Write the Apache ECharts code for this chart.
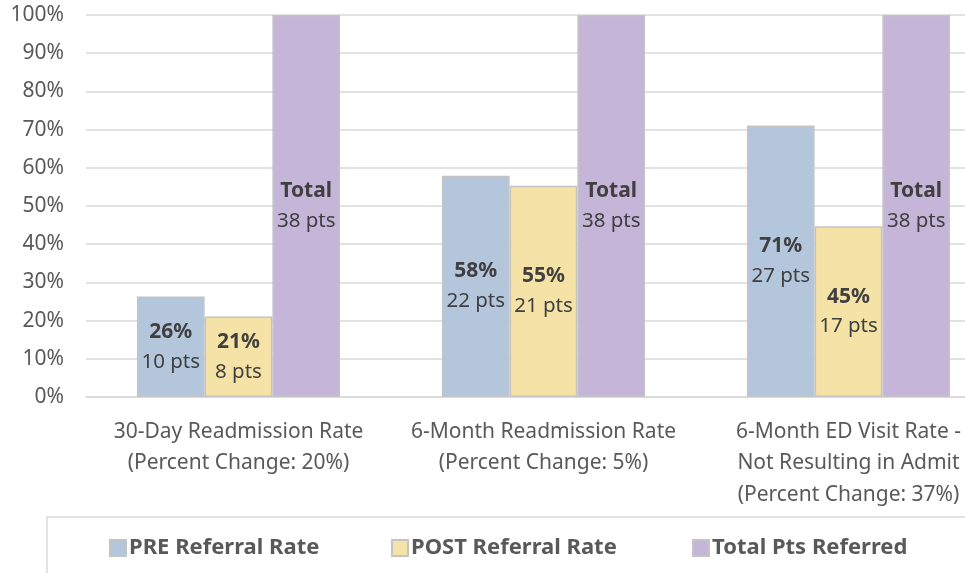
<!DOCTYPE html>
<html><head><meta charset="utf-8">
<script src="https://cdn.jsdelivr.net/npm/echarts@6/dist/echarts.min.js"></script>
<style>html,body{margin:0;padding:0;background:#fff}#c{width:965px;height:573px}</style>
</head><body><div id="c"></div>
<script>
const categories = ['30-Day Readmission Rate\n(Percent Change: 20%)', '6-Month Readmission Rate\n(Percent Change: 5%)', '6-Month ED Visit Rate -\nNot Resulting in Admit\n(Percent Change: 37%)'];
const preRate = [26.3, 57.9, 71.1];
const postRate = [21.1, 55.3, 44.7];
const totalRate = [100, 100, 100];
const prePts = [10, 22, 27];
const postPts = [8, 21, 17];
const totalPts = [38, 38, 38];
const yTicks = [0, 10, 20, 30, 40, 50, 60, 70, 80, 90, 100];
const seriesNames = ['PRE Referral Rate', 'POST Referral Rate', 'Total Pts Referred'];

const FONT = 'Noto Sans';
const rich = {
  b: {fontFamily: FONT, fontSize: 21, fontWeight: 'bold', color: '#404040', lineHeight: 30},
  n: {fontFamily: FONT, fontSize: 20.5, color: '#404040', lineHeight: 30}
};
function lab(fn) {
  return {show: true, position: 'inside', formatter: fn, rich: rich};
}
const border = {borderColor: '#c4c4c4', borderWidth: 1.5};
const chart = echarts.init(document.getElementById('c'));
const legendBase = {top: 532, itemWidth: 16, itemHeight: 16, icon: 'rect',
  textStyle: {fontFamily: FONT, fontSize: 22, fontWeight: 'bold', color: '#595959', padding: [0, 0, 0, -2]}};
chart.setOption({
  animation: false,
  textStyle: {fontFamily: FONT},
  grid: {left: 86, width: 915, top: 15, bottom: 176, outerBoundsMode: 'none', containLabel: false},
  legend: [
    Object.assign({left: 104, data: [seriesNames[0]]}, legendBase),
    Object.assign({left: 386, data: [seriesNames[1]]}, legendBase),
    Object.assign({left: 687, data: [seriesNames[2]]}, legendBase)
  ],
  graphic: [{type: 'rect', shape: {x: 47, y: 517, width: 1000, height: 100}, style: {fill: 'none', stroke: '#d9d9d9', lineWidth: 1.5}}],
  xAxis: {type: 'category', data: categories,
    axisLine: {lineStyle: {color: '#d9d9d9', width: 1.5}}, axisTick: {show: false},
    axisLabel: {color: '#595959', fontSize: 21, lineHeight: 31.5, margin: 19, interval: 0}},
  yAxis: {type: 'value', min: yTicks[0], max: yTicks[yTicks.length - 1], interval: 10,
    axisLabel: {formatter: '{value}%', color: '#595959', fontSize: 21, margin: 22},
    splitLine: {lineStyle: {color: '#d9d9d9', width: 1.5}}, axisLine: {show: false}, axisTick: {show: false}},
  series: [
    {name: seriesNames[0], type: 'bar', data: preRate, barGap: '0%', barCategoryGap: '33.4%',
      itemStyle: Object.assign({color: '#b4c6dc'}, border),
      label: lab(p => '{b|' + Math.round(p.value) + '%}\n{n|' + prePts[p.dataIndex] + ' pts}')},
    {name: seriesNames[1], type: 'bar', data: postRate,
      itemStyle: Object.assign({color: '#f5e2a6'}, border),
      label: lab(p => '{b|' + Math.round(p.value) + '%}\n{n|' + postPts[p.dataIndex] + ' pts}')},
    {name: seriesNames[2], type: 'bar', data: totalRate,
      itemStyle: Object.assign({color: '#c5b5d8'}, border),
      label: lab(p => '{b|Total}\n{n|' + totalPts[p.dataIndex] + ' pts}')}
  ]
});
</script></body></html>
